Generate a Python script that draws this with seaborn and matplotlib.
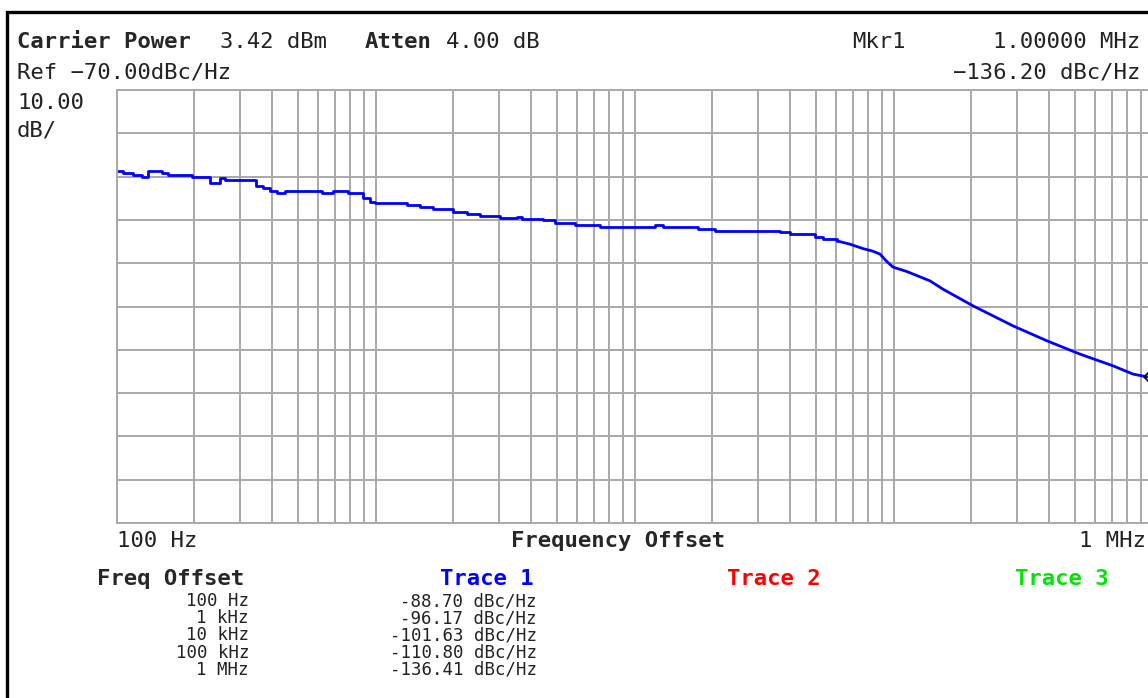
import matplotlib
matplotlib.use('Agg')
import matplotlib.pyplot as plt
import matplotlib.ticker as mticker
from matplotlib.patches import Rectangle
import pandas as pd
import seaborn as sns

W, H = 1148, 698

# ---- data (frequency offset in Hz, phase noise in dBc/Hz)
step_freq_hz = [100, 105.9, 115.8, 125.1, 132.5, 149.5, 158.5, 195.1, 229.6, 251,
                262.4, 345, 367.8, 391.4, 415.5, 447.3, 620, 685.4, 783.1, 894.6,
                952.3, 995.7, 1323, 1485, 1667, 1992, 2256, 2533, 3025, 3518,
                3678, 4433, 4932, 5894, 7358, 12000, 12880, 17590, 20460, 36460,
                39850, 49760, 53440, 60520]
step_dbc = [-88.69, -89.22, -89.62, -90.01, -88.69, -89.22, -89.62, -90.01, -91.39, -90.38,
            -90.84, -92.16, -92.69, -93.31, -93.84, -93.31, -93.84, -93.31, -93.84, -94.99,
            -95.78, -96.15, -96.54, -97.0, -97.46, -98.09, -98.55, -99.08, -99.54, -99.24,
            -99.7, -100.0, -100.63, -101.23, -101.69, -101.23, -101.69, -102.15, -102.47, -102.77,
            -103.3, -103.86, -104.32, -104.85]

slope_freq_hz = [60520, 67920, 76250, 83000, 88710, 93500, 99540, 112700, 138300, 155300,
                 202800, 289300, 391500, 525000, 703900, 841000, 952400, 1000000]
slope_dbc = [-104.85, -105.61, -106.63, -107.2, -107.9, -109.4, -110.9, -111.93, -114.08, -116.0,
             -119.85, -124.47, -127.93, -131.0, -133.7, -135.61, -136.24, -136.41]

marker_freq_hz = [1000000]
marker_dbc = [-136.20]

table_offsets = ["100 Hz", "1 kHz", "10 kHz", "100 kHz", "1 MHz"]
table_values = ["-88.70 dBc/Hz", "-96.17 dBc/Hz", "-101.63 dBc/Hz", "-110.80 dBc/Hz", "-136.41 dBc/Hz"]
trace_names = ["Trace 1", "Trace 2", "Trace 3"]
trace_colors = ["#0000ff", "#ff0000", "#00e600"]

step_df = pd.DataFrame({"freq": step_freq_hz, "dbc": step_dbc})
slope_df = pd.DataFrame({"freq": slope_freq_hz, "dbc": slope_dbc})

sns.set_style("white")
plt.rcParams['font.family'] = ['DejaVu Sans Mono', 'DejaVu Sans']

fig = plt.figure(figsize=(W / 100, H / 100), dpi=100)
fig.patch.set_facecolor('white')

# outer instrument frame
fig.patches.append(Rectangle((7 / W, -0.1), 1.2, (1 - 12.5 / H) + 0.1,
                             transform=fig.transFigure, fill=False,
                             lw=2.4, ec='black', zorder=0))

ax = fig.add_axes([116.5 / W, 1 - 523 / H, 1036 / W, 433 / H])
ax.set_xscale('log')
ax.set_xlim(100, 1e6)
ax.set_ylim(-170, -70)
ax.xaxis.set_major_locator(mticker.LogLocator(base=10, numticks=10))
ax.xaxis.set_minor_locator(mticker.LogLocator(base=10, subs=range(2, 10), numticks=100))
ax.yaxis.set_major_locator(mticker.MultipleLocator(10))
ax.grid(True, which='both', axis='x', color='#a9a9a9', lw=1.4)
ax.grid(True, which='major', axis='y', color='#a9a9a9', lw=1.4)
for sp in ax.spines.values():
    sp.set_color('#a9a9a9')
    sp.set_linewidth(1.4)
ax.tick_params(which='both', length=0, labelbottom=False, labelleft=False)

sns.lineplot(data=step_df, x="freq", y="dbc", ax=ax, color='#0000ff', lw=2.0,
             drawstyle='steps-post', estimator=None, sort=False, legend=False)
sns.lineplot(data=slope_df, x="freq", y="dbc", ax=ax, color='#0000ff', lw=2.0,
             estimator=None, sort=False, legend=False)
ax.plot(marker_freq_hz, marker_dbc, marker='D', ms=9, mfc='none', mec='black',
        mew=1.2, ls='none', clip_on=False)
ax.set_xlabel('')
ax.set_ylabel('')


def put(x, y, s, **kw):
    kw.setdefault('va', 'center')
    fig.text(x / W, 1 - y / H, s, **kw)


FS = 16
put(17, 42, "Carrier Power", fontsize=FS, fontweight='bold')
put(220, 42, "3.42 dBm", fontsize=FS, color='#222222')
put(365, 42, "Atten", fontsize=FS, fontweight='bold')
put(446, 42, "4.00 dB", fontsize=FS, color='#222222')
put(17, 73, "Ref \u221270.00dBc/Hz", fontsize=FS, color='#222222')
put(17, 103, "10.00", fontsize=FS, color='#222222')
put(17, 131, "dB/", fontsize=FS, color='#222222')
put(852, 42, "Mkr1", fontsize=FS, color='#222222')
put(1140, 42, "1.00000 MHz", fontsize=FS, ha='right', color='#222222')
put(1140, 73, "\u2212136.20 dBc/Hz", fontsize=FS, ha='right', color='#222222')

put(117, 541, "100 Hz", fontsize=FS, color='#222222')
put(618, 541, "Frequency Offset", fontsize=FS, fontweight='bold', ha='center')
put(1146, 541, "1 MHz", fontsize=FS, ha='right', color='#222222')

put(97, 579, "Freq Offset", fontsize=FS, fontweight='bold')
for name, col, x0 in zip(trace_names, trace_colors, [440, 727, 1015]):
    put(x0, 579, name, fontsize=FS, fontweight='bold', color=col)

for i, (fo, val) in enumerate(zip(table_offsets, table_values)):
    yy = 601 + i * 17.2
    put(249, yy, fo, fontsize=12.5, ha='right', color='#222222')
    put(537, yy, val, fontsize=12.5, ha='right', color='#222222')

fig.savefig('out.png', dpi=100, facecolor='white')
